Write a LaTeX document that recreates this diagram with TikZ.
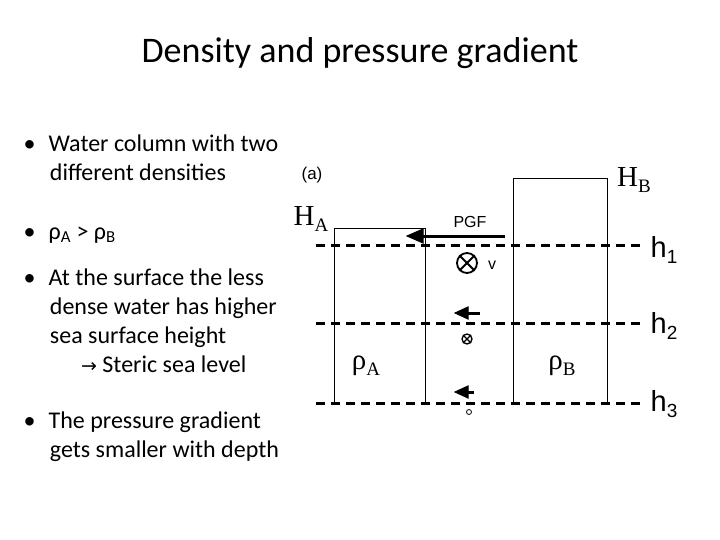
\documentclass[tikz,border=0pt]{standalone}
\usepackage{fontspec}
\setmainfont{Carlito}
\newfontfamily\arial{Liberation Sans}
\newfontfamily\dejav{DejaVu Sans}
\newfontfamily\tms{Liberation Serif}
\newcommand{\lsub}[1]{\raisebox{-0.4ex}{\fontsize{19}{19}\selectfont #1}}
\begin{document}
\begin{tikzpicture}[x=1pt,y=1pt,
  bul/.style={anchor=north west,align=left,font=\fontsize{24}{29}\selectfont},
  lab/.style={font=\arial\fontsize{29}{30}\selectfont},
  dline/.style={line width=3pt,dash pattern=on 9pt off 6pt},
  pg/.style={line width=3pt},
  headtip/.style={draw=black,fill=black,line width=1pt,line join=miter}]
\useasboundingbox (0,0) rectangle (720,-540);
\node (title) at (360,-53) {\fontsize{36}{40}\selectfont Density and pressure gradient};
\node[bul] (b1) at (20,-131) {•\hspace{0.55em}Water column with two\\\hspace{1.1em}different densities};
\node[bul] (b2) at (20,-223) {•\hspace{0.55em}ρ\textsubscript{A} > ρ\textsubscript{B}};
\node[bul] (b3) at (20,-265) {•\hspace{0.55em}At the surface the less\\\hspace{1.1em}dense water has higher\\\hspace{1.1em}sea surface height\\\hspace{2.4em}{\dejav\fontsize{19}{24}\selectfont →} Steric sea level};
\node[bul] (b4) at (20,-408) {•\hspace{0.55em}The pressure gradient\\\hspace{1.1em}gets smaller with depth};
\draw[line width=0.8pt] (334,-403) -- (334,-228) -- (425,-228) -- (425,-403);
\draw[line width=0.8pt] (513,-403) -- (513,-178) -- (607,-178) -- (607,-403);
\draw[dline] (316,-245) -- (640,-245);
\draw[dline] (316,-323) -- (640,-323);
\draw[dline] (316,-403) -- (640,-403);
\node[font=\arial\fontsize{17}{18}\selectfont] (a) at (312,-175) {(a)};
\node (ha) at (311,-219) {\tms\fontsize{29}{30}\selectfont H\lsub{A}};
\node (hb) at (634,-180) {\tms\fontsize{29}{30}\selectfont H\lsub{B}};
\node[lab] (h1) at (664,-250) {h\lsub{1}};
\node[lab] (h2) at (664,-326) {h\lsub{2}};
\node[lab] (h3) at (664,-404) {h\lsub{3}};
\node[font=\arial\fontsize{16}{16}\selectfont] (pgf) at (470,-222) {PGF};
\coordinate (s1) at (505,-236); \coordinate (e1) at (420,-236);
\draw[pg] (s1) -- (e1);
\filldraw[headtip] (407,-236) -- (423,-229) -- (423,-243) -- cycle;
\coordinate (s2) at (480,-313); \coordinate (e2) at (466,-313);
\draw[pg] (s2) -- (e2);
\filldraw[headtip] (455,-313) -- (468,-307) -- (468,-319) -- cycle;
\coordinate (s3) at (474,-392); \coordinate (e3) at (466,-392);
\draw[pg] (s3) -- (e3);
\filldraw[headtip] (455,-392) -- (468,-386) -- (468,-398) -- cycle;
\node[draw,circle,line width=1.8pt,minimum size=20pt,inner sep=0pt] (c1) at (467,-263) {};
\draw[line width=1.8pt] (c1.north west)--(c1.south east) (c1.north east)--(c1.south west);
\node[draw,circle,line width=1.3pt,minimum size=10pt,inner sep=0pt] (c2) at (467,-339) {};
\draw[line width=1.2pt] (c2.north west)--(c2.south east) (c2.north east)--(c2.south west);
\node[draw,circle,line width=0.8pt,minimum size=5pt,inner sep=0pt] (c3) at (469,-412) {};
\node[font=\arial\fontsize{16}{16}\selectfont] (v) at (492,-265) {v};
\node (ra) at (366,-366) {\tms\fontsize{29}{30}\selectfont ρ\lsub{A}};
\node (rb) at (562,-366) {\tms\fontsize{29}{30}\selectfont ρ\lsub{B}};
\end{tikzpicture}
\end{document}
